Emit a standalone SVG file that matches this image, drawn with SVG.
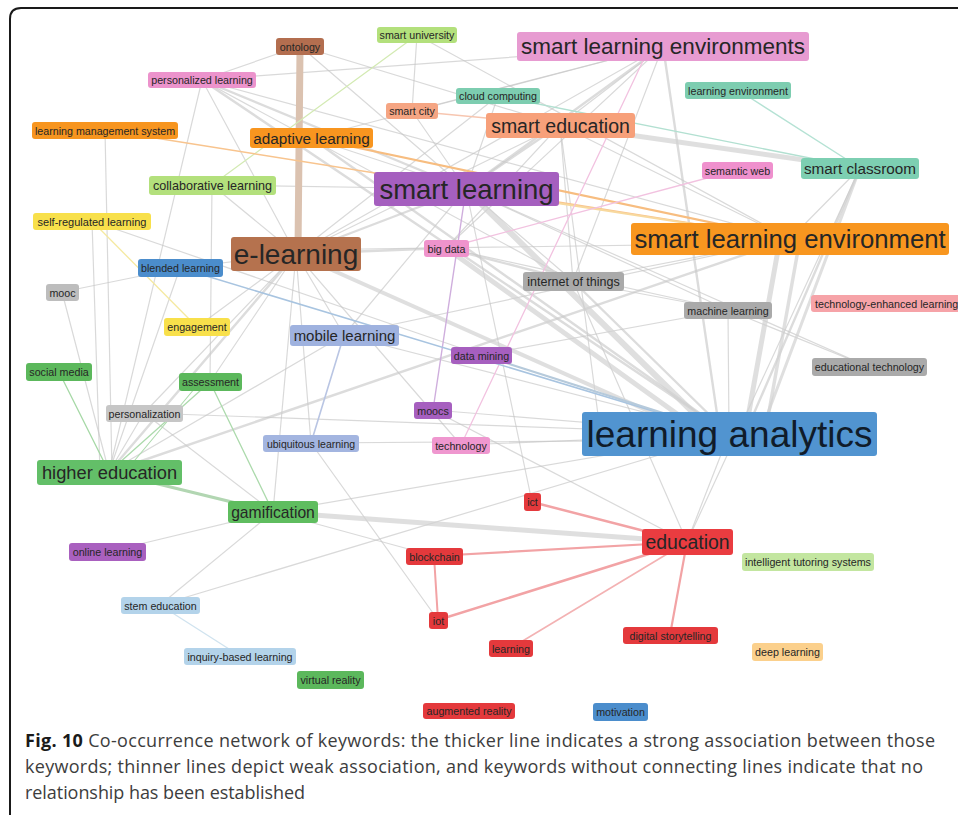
<svg xmlns="http://www.w3.org/2000/svg" width="958" height="815" viewBox="0 0 958 815">
<style>
.n rect{rx:3px;ry:3px}
.n text{font-family:"Liberation Sans",Arial,sans-serif;fill:#262626;text-anchor:middle;dominant-baseline:central;font-size:10.7px}
.e line{stroke-linecap:round;fill:none}
.t{stroke:#c4c4c4;stroke-width:1.2;stroke-opacity:.65}
.m{stroke:#cacaca;stroke-width:2.4;stroke-opacity:.65}
.k{stroke:#d2d2d2;stroke-width:5;stroke-opacity:.7}
.cap{font-family:"Open Sans","Noto Sans",sans-serif;font-size:18px;fill:#3d3d3d}
</style>
<rect width="958" height="815" fill="#ffffff"/>
<path d="M10 815 V19 Q10 8 21 8 H958" fill="none" stroke="#1a1a1a" stroke-width="2"/>
<g id="connectors" class="e">
<line class="t" x1="300" y1="46" x2="202" y2="80"/>
<line class="t" x1="300" y1="46" x2="560" y2="125"/>
<line class="t" x1="300" y1="46" x2="466" y2="189"/>
<line class="t" x1="417" y1="35" x2="412" y2="111"/>
<line class="t" x1="417" y1="35" x2="790" y2="239"/>
<line class="t" x1="663" y1="46" x2="202" y2="80"/>
<line class="t" x1="663" y1="46" x2="560" y2="125"/>
<line class="t" x1="663" y1="46" x2="446" y2="248"/>
<line class="t" x1="663" y1="46" x2="573" y2="281"/>
<line class="t" x1="663" y1="46" x2="296" y2="254"/>
<line class="t" x1="663" y1="46" x2="311" y2="138"/>
<line class="t" x1="663" y1="46" x2="412" y2="111"/>
<line class="t" x1="202" y1="80" x2="296" y2="254"/>
<line class="t" x1="202" y1="80" x2="109" y2="472"/>
<line class="t" x1="202" y1="80" x2="573" y2="281"/>
<line class="t" x1="202" y1="80" x2="790" y2="239"/>
<line class="t" x1="498" y1="96" x2="466" y2="189"/>
<line class="t" x1="498" y1="96" x2="296" y2="254"/>
<line class="t" x1="412" y1="111" x2="466" y2="189"/>
<line class="t" x1="560" y1="125" x2="600" y2="430"/>
<line class="t" x1="560" y1="125" x2="296" y2="254"/>
<line class="t" x1="560" y1="125" x2="446" y2="248"/>
<line class="t" x1="560" y1="125" x2="573" y2="281"/>
<line class="t" x1="560" y1="125" x2="790" y2="239"/>
<line class="t" x1="311" y1="138" x2="466" y2="189"/>
<line class="t" x1="212" y1="185" x2="466" y2="189"/>
<line class="t" x1="212" y1="185" x2="296" y2="254"/>
<line class="t" x1="212" y1="185" x2="210" y2="382"/>
<line class="t" x1="466" y1="189" x2="573" y2="281"/>
<line class="t" x1="466" y1="189" x2="344" y2="335"/>
<line class="t" x1="466" y1="189" x2="728" y2="310"/>
<line class="t" x1="466" y1="189" x2="869" y2="367"/>
<line class="t" x1="466" y1="189" x2="532" y2="502"/>
<line class="t" x1="92" y1="221" x2="481" y2="355"/>
<line class="t" x1="92" y1="221" x2="100" y2="472"/>
<line class="t" x1="105" y1="130" x2="112" y2="472"/>
<line class="t" x1="296" y1="254" x2="180" y2="268"/>
<line class="t" x1="296" y1="254" x2="344" y2="335"/>
<line class="t" x1="296" y1="254" x2="197" y2="327"/>
<line class="t" x1="296" y1="254" x2="273" y2="512"/>
<line class="t" x1="296" y1="254" x2="210" y2="382"/>
<line class="t" x1="296" y1="254" x2="144" y2="413"/>
<line class="t" x1="296" y1="254" x2="311" y2="443"/>
<line class="t" x1="296" y1="254" x2="461" y2="445"/>
<line class="t" x1="296" y1="250" x2="790" y2="243"/>
<line class="t" x1="446" y1="248" x2="728" y2="310"/>
<line class="t" x1="790" y1="239" x2="344" y2="335"/>
<line class="t" x1="790" y1="239" x2="573" y2="281"/>
<line class="t" x1="860" y1="168" x2="790" y2="239"/>
<line class="t" x1="860" y1="168" x2="687" y2="542"/>
<line class="t" x1="180" y1="268" x2="62" y2="292"/>
<line class="t" x1="180" y1="268" x2="109" y2="472"/>
<line class="t" x1="573" y1="281" x2="728" y2="310"/>
<line class="t" x1="573" y1="281" x2="687" y2="542"/>
<line class="t" x1="728" y1="310" x2="869" y2="367"/>
<line class="t" x1="728" y1="310" x2="481" y2="355"/>
<line class="t" x1="728" y1="310" x2="729" y2="434"/>
<line class="t" x1="344" y1="335" x2="729" y2="434"/>
<line class="t" x1="344" y1="335" x2="109" y2="472"/>
<line class="t" x1="62" y1="292" x2="109" y2="472"/>
<line class="t" x1="144" y1="413" x2="109" y2="472"/>
<line class="t" x1="144" y1="413" x2="729" y2="434"/>
<line class="t" x1="144" y1="413" x2="273" y2="512"/>
<line class="t" x1="433" y1="410" x2="729" y2="434"/>
<line class="t" x1="461" y1="445" x2="729" y2="434"/>
<line class="t" x1="311" y1="443" x2="729" y2="440"/>
<line class="t" x1="311" y1="443" x2="438" y2="620"/>
<line class="t" x1="729" y1="434" x2="687" y2="542"/>
<line class="t" x1="273" y1="512" x2="107" y2="552"/>
<line class="t" x1="273" y1="512" x2="160" y2="605"/>
<line class="t" x1="273" y1="512" x2="729" y2="434"/>
<line class="t" x1="273" y1="512" x2="434" y2="556"/>
<line class="t" x1="160" y1="605" x2="729" y2="434"/>
<line class="t" x1="433" y1="410" x2="687" y2="542"/>
<line class="m" x1="663" y1="46" x2="466" y2="189"/>
<line class="m" x1="663" y1="46" x2="720" y2="434"/>
<line class="m" x1="202" y1="80" x2="466" y2="189"/>
<line class="m" x1="202" y1="80" x2="729" y2="434"/>
<line class="m" x1="560" y1="125" x2="466" y2="189"/>
<line class="m" x1="311" y1="138" x2="729" y2="434"/>
<line class="m" x1="296" y1="254" x2="446" y2="248"/>
<line class="m" x1="296" y1="254" x2="466" y2="189"/>
<line class="m" x1="296" y1="254" x2="109" y2="472"/>
<line class="m" x1="446" y1="248" x2="573" y2="281"/>
<line class="m" x1="573" y1="281" x2="729" y2="434"/>
<line class="m" x1="790" y1="239" x2="109" y2="472"/>
<line class="m" x1="860" y1="168" x2="745" y2="434"/>
<line class="k" x1="560" y1="125" x2="860" y2="168"/>
<line class="k" x1="466" y1="189" x2="715" y2="434" style="stroke-width:6"/>
<line class="k" x1="446" y1="248" x2="705" y2="434"/>
<line class="k" x1="296" y1="254" x2="700" y2="434" style="stroke-width:4"/>
<line class="k" x1="780" y1="239" x2="745" y2="434"/>
<line class="k" x1="800" y1="239" x2="765" y2="434" style="stroke-width:3.5"/>
<line class="k" x1="860" y1="168" x2="760" y2="434" style="stroke-width:3"/>
<line class="k" x1="273" y1="512" x2="687" y2="542"/>
<line x1="300" y1="50" x2="298" y2="250" stroke="#dbc2b0" stroke-width="7"/>
<line x1="417" y1="35" x2="212" y2="185" stroke="#d3eab3" stroke-width="1.3"/>
<line x1="105" y1="130" x2="790" y2="239" stroke="#f8c48e" stroke-width="1.6"/>
<line x1="311" y1="138" x2="790" y2="239" stroke="#f7bd80" stroke-width="2.2"/>
<line x1="466" y1="189" x2="790" y2="239" stroke="#f8d99e" stroke-width="1.8"/>
<line x1="498" y1="96" x2="860" y2="168" stroke="#b2e0d1" stroke-width="1.4"/>
<line x1="738" y1="90" x2="860" y2="168" stroke="#b5e2d4" stroke-width="1.4"/>
<line x1="412" y1="111" x2="560" y2="125" stroke="#f7c6b0" stroke-width="1.6"/>
<line x1="737" y1="170" x2="446" y2="248" stroke="#f2c2e0" stroke-width="1.3"/>
<line x1="650" y1="46" x2="461" y2="445" stroke="#f2c2e0" stroke-width="1.3"/>
<line x1="466" y1="189" x2="433" y2="410" stroke="#cfaedd" stroke-width="1.4"/>
<line x1="344" y1="335" x2="311" y2="443" stroke="#b9c5e3" stroke-width="1.6"/>
<line x1="180" y1="268" x2="729" y2="434" stroke="#a8c4e0" stroke-width="1.6"/>
<line x1="481" y1="355" x2="729" y2="434" stroke="#b6cadb" stroke-width="2"/>
<line x1="92" y1="221" x2="197" y2="327" stroke="#f5e9a0" stroke-width="1.3"/>
<line x1="59" y1="372" x2="109" y2="472" stroke="#a6d8a6" stroke-width="1.3"/>
<line x1="210" y1="382" x2="109" y2="472" stroke="#acdaac" stroke-width="1.3"/>
<line x1="200" y1="382" x2="125" y2="472" stroke="#acdaac" stroke-width="1.1"/>
<line x1="210" y1="382" x2="273" y2="512" stroke="#acdaac" stroke-width="1.3"/>
<line x1="109" y1="472" x2="273" y2="512" stroke="#b2d6b2" stroke-width="3"/>
<line x1="160" y1="605" x2="240" y2="656" stroke="#d0e3ef" stroke-width="1.3"/>
<line x1="532" y1="502" x2="687" y2="542" stroke="#f2a3a5" stroke-width="2.5"/>
<line x1="434" y1="556" x2="687" y2="542" stroke="#f2a3a5" stroke-width="2.2"/>
<line x1="438" y1="620" x2="687" y2="542" stroke="#f2a3a5" stroke-width="2.5"/>
<line x1="511" y1="648" x2="687" y2="542" stroke="#f3b2b3" stroke-width="1.6"/>
<line x1="670" y1="635" x2="687" y2="542" stroke="#f2a3a5" stroke-width="2.2"/>
<line x1="434" y1="556" x2="438" y2="620" stroke="#f2a3a5" stroke-width="2"/>
</g>
<g id="n-ontology" class="n"><rect x="276" y="38" width="48" height="17" fill="#b36e4f"/><text x="300" y="46.5">ontology</text></g>
<g id="n-smart-university" class="n"><rect x="377" y="27" width="80" height="16" fill="#b3e07c"/><text x="417" y="35">smart university</text></g>
<g id="n-smart-learning-environments" class="n"><rect x="517" y="32" width="292" height="29" fill="#e79bd1"/><text x="663" y="46.5" style="font-size:22.5px">smart learning environments</text></g>
<g id="n-personalized-learning" class="n"><rect x="148" y="72" width="108" height="16" fill="#ec93cc"/><text x="202" y="80">personalized learning</text></g>
<g id="n-cloud-computing" class="n"><rect x="456" y="88" width="84" height="16" fill="#7dcdb0"/><text x="498" y="96">cloud computing</text></g>
<g id="n-learning-environment" class="n"><rect x="685" y="82" width="106" height="17" fill="#7dcdb0"/><text x="738" y="90.5">learning environment</text></g>
<g id="n-smart-city" class="n"><rect x="386" y="103" width="52" height="16" fill="#f5a583"/><text x="412" y="111">smart city</text></g>
<g id="n-smart-education" class="n"><rect x="486" y="113" width="149" height="25" fill="#f7a07a"/><text x="560.5" y="125.5" style="font-size:19.5px">smart education</text></g>
<g id="n-learning-management-system" class="n"><rect x="32" y="122" width="146" height="17" fill="#f7951f"/><text x="105" y="130.5">learning management system</text></g>
<g id="n-adaptive-learning" class="n"><rect x="250" y="128" width="123" height="20" fill="#f8951f"/><text x="311.5" y="138" style="font-size:15.3px">adaptive learning</text></g>
<g id="n-semantic-web" class="n"><rect x="702" y="162" width="71" height="17" fill="#ef90cd"/><text x="737.5" y="170.5">semantic web</text></g>
<g id="n-smart-classroom" class="n"><rect x="801" y="158" width="118" height="21" fill="#7dcfb2"/><text x="860" y="168.5" style="font-size:15.3px">smart classroom</text></g>
<g id="n-collaborative-learning" class="n"><rect x="149" y="176" width="127" height="19" fill="#b3e07c"/><text x="212.5" y="185.5" style="font-size:12.6px">collaborative learning</text></g>
<g id="n-smart-learning" class="n"><rect x="374" y="172" width="185" height="34" fill="#a55fbf"/><text x="466.5" y="189" style="font-size:27.5px">smart learning</text></g>
<g id="n-self-regulated-learning" class="n"><rect x="33" y="213" width="118" height="17" fill="#f8e04b"/><text x="92" y="221.5" style="font-size:11px">self-regulated learning</text></g>
<g id="n-e-learning" class="n"><rect x="231" y="237" width="130" height="34" fill="#b5724e"/><text x="296" y="254" style="font-size:28px">e-learning</text></g>
<g id="n-big-data" class="n"><rect x="424" y="240" width="45" height="17" fill="#ef93cc"/><text x="446.5" y="248.5">big data</text></g>
<g id="n-smart-learning-environment" class="n"><rect x="631" y="223" width="318" height="32" fill="#f8961f"/><text x="790" y="239" style="font-size:25.7px">smart learning environment</text></g>
<g id="n-blended-learning" class="n"><rect x="138" y="259" width="85" height="18" fill="#4b8dcc"/><text x="180.5" y="268">blended learning</text></g>
<g id="n-internet-of-things" class="n"><rect x="523" y="272" width="101" height="19" fill="#aaaaaa"/><text x="573.5" y="281.5" style="font-size:12.5px">internet of things</text></g>
<g id="n-mooc" class="n"><rect x="46" y="284" width="33" height="17" fill="#bdbdbd"/><text x="62.5" y="292.5">mooc</text></g>
<g id="n-technology-enhanced-learning" class="n"><rect x="811" y="295" width="150" height="17" fill="#f6a3a8"/><text x="815" y="303.5" style="text-anchor:start">technology-enhanced learning</text></g>
<g id="n-machine-learning" class="n"><rect x="684" y="302" width="88" height="17" fill="#aaaaaa"/><text x="728" y="310.5">machine learning</text></g>
<g id="n-engagement" class="n"><rect x="164" y="318" width="66" height="18" fill="#f8e04b"/><text x="197" y="327">engagement</text></g>
<g id="n-mobile-learning" class="n"><rect x="290" y="325" width="109" height="21" fill="#9fb2df"/><text x="344.5" y="335.5" style="font-size:15px">mobile learning</text></g>
<g id="n-data-mining" class="n"><rect x="451" y="347" width="61" height="17" fill="#a65fbf"/><text x="481.5" y="355.5">data mining</text></g>
<g id="n-educational-technology" class="n"><rect x="812" y="358" width="115" height="18" fill="#aaaaaa"/><text x="869.5" y="367">educational technology</text></g>
<g id="n-social-media" class="n"><rect x="26" y="363" width="66" height="18" fill="#5cb85c"/><text x="59" y="372">social media</text></g>
<g id="n-assessment" class="n"><rect x="179" y="373" width="63" height="18" fill="#5cb85c"/><text x="210.5" y="382">assessment</text></g>
<g id="n-personalization" class="n"><rect x="106" y="405" width="77" height="17" fill="#c6c6c6"/><text x="144.5" y="413.5">personalization</text></g>
<g id="n-moocs" class="n"><rect x="414" y="402" width="38" height="17" fill="#a65fbf"/><text x="433" y="410.5">moocs</text></g>
<g id="n-learning-analytics" class="n"><rect x="582" y="412" width="295" height="44" fill="#5194d0"/><text x="729.5" y="434" style="font-size:37px;fill:#101c2a">learning analytics</text></g>
<g id="n-ubiquitous-learning" class="n"><rect x="263" y="435" width="96" height="17" fill="#a3b5e0"/><text x="311" y="443.5" style="font-size:10.5px">ubiquitous learning</text></g>
<g id="n-technology" class="n"><rect x="432" y="437" width="58" height="17" fill="#ef97cf"/><text x="461" y="445.5">technology</text></g>
<g id="n-higher-education" class="n"><rect x="37" y="460" width="145" height="25" fill="#63bf68"/><text x="109.5" y="472.5" style="font-size:18.3px">higher education</text></g>
<g id="n-gamification" class="n"><rect x="228" y="501" width="90" height="22" fill="#5fbd5f"/><text x="273" y="512" style="font-size:15.7px">gamification</text></g>
<g id="n-ict" class="n"><rect x="524" y="493" width="17" height="18" fill="#e4393c"/><text x="532.5" y="502">ict</text></g>
<g id="n-education" class="n"><rect x="642" y="529" width="91" height="26" fill="#ea3c40"/><text x="687.5" y="542" style="font-size:19.4px">education</text></g>
<g id="n-blockchain" class="n"><rect x="406" y="548" width="57" height="17" fill="#e4393c"/><text x="434.5" y="556.5">blockchain</text></g>
<g id="n-intelligent-tutoring-systems" class="n"><rect x="742" y="553" width="132" height="18" fill="#c3e6a0"/><text x="808" y="562">intelligent tutoring systems</text></g>
<g id="n-online-learning" class="n"><rect x="69" y="543" width="77" height="18" fill="#a960bf"/><text x="107.5" y="552">online learning</text></g>
<g id="n-stem-education" class="n"><rect x="121" y="597" width="79" height="17" fill="#b3d3ea"/><text x="160.5" y="605.5">stem education</text></g>
<g id="n-iot" class="n"><rect x="429" y="612" width="19" height="17" fill="#e4393c"/><text x="438.5" y="620.5">iot</text></g>
<g id="n-learning" class="n"><rect x="489" y="640" width="44" height="17" fill="#e4393c"/><text x="511" y="648.5">learning</text></g>
<g id="n-digital-storytelling" class="n"><rect x="623" y="627" width="95" height="17" fill="#e4393c"/><text x="670.5" y="635.5">digital storytelling</text></g>
<g id="n-deep-learning" class="n"><rect x="752" y="643" width="71" height="18" fill="#fbd08c"/><text x="787.5" y="652">deep learning</text></g>
<g id="n-inquiry-based-learning" class="n"><rect x="184" y="648" width="112" height="17" fill="#b3d3ea"/><text x="240" y="656.5">inquiry-based learning</text></g>
<g id="n-virtual-reality" class="n"><rect x="297" y="671" width="67" height="18" fill="#5cb85c"/><text x="330.5" y="680">virtual reality</text></g>
<g id="n-augmented-reality" class="n"><rect x="423" y="703" width="92" height="16" fill="#e4393c"/><text x="469" y="711">augmented reality</text></g>
<g id="n-motivation" class="n"><rect x="593" y="703" width="55" height="18" fill="#4b8dcc"/><text x="620.5" y="712">motivation</text></g>
<g id="caption" class="cap">
<text x="25" y="747" textLength="910" lengthAdjust="spacing"><tspan font-weight="bold" fill="#1a1a1a">Fig. 10</tspan> Co-occurrence network of keywords: the thicker line indicates a strong association between those</text>
<text x="25" y="773" textLength="898" lengthAdjust="spacing">keywords; thinner lines depict weak association, and keywords without connecting lines indicate that no</text>
<text x="25" y="799" textLength="280" lengthAdjust="spacing">relationship has been established</text>
</g>
</svg>
